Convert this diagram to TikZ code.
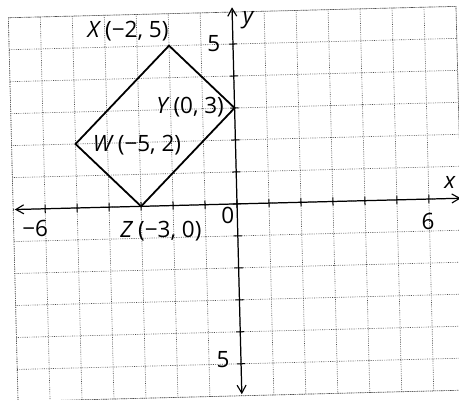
\documentclass[tikz,border=0pt]{standalone}
\usepackage{fontspec}
\setmainfont{Open Sans}
\usetikzlibrary{arrows.meta}
\tikzset{
  gridline/.style={densely dotted, line width=0.6pt, black!70},
  axisline/.style={line width=1.1pt, {Straight Barb[length=7pt,width=8pt,line width=1pt]}-{Straight Barb[length=7pt,width=8pt,line width=1pt]}},
  shapeline/.style={line width=1.6pt, line join=miter},
  lbl/.style={font=\fontsize{20}{24}\selectfont, inner sep=1pt},
  ticklbl/.style={font=\fontsize{20}{24}\selectfont, inner sep=1pt},
}
\begin{document}
\begin{tikzpicture}
\useasboundingbox (-7.41,-6.125) rectangle (6.94,6.375);
\begin{scope}[rotate=1.45]
  % grid
  \draw[gridline] (-7,-6) grid (7,6);
  \draw[gridline] (-7,-6) rectangle (7,6);
  % axes
  \coordinate (xl) at (-6.95,0);
  \coordinate (xr) at (7.0,0);
  \coordinate (yb) at (0,-5.95);
  \coordinate (yt) at (0,6.15);
  \draw[axisline] (xl) -- (xr);
  \draw[axisline] (yb) -- (yt);
  \foreach \i in {-6,...,6} \draw[line width=0.9pt] (\i,-0.13) -- (\i,0.13);
  \foreach \j in {-5,...,5} \draw[line width=0.9pt] (-0.13,\j) -- (0.13,\j);
  % quadrilateral
  \coordinate (X) at (-2,5);
  \coordinate (Y) at (0,3);
  \coordinate (Z) at (-3,0);
  \coordinate (W) at (-5,2);
  \draw[shapeline] (X) -- (Y) -- (Z) -- (W) -- cycle;
  % labels
  \node[lbl] (lx) at (-3.27,5.5) {\itshape X\upshape\ (−2, 5)};
  \node[lbl] (ly) at (-1.39,3.07) {\itshape Y\upshape\ (0, 3)};
  \node[lbl] (lw) at (-3.08,1.92) {\itshape W\upshape\ (−5, 2)};
  \node[lbl] (lz) at (-2.4,-0.78) {\itshape Z\upshape\ (−3, 0)};
  \node[ticklbl] (l0) at (-0.3,-0.35) {0};
  \node[ticklbl] (lm6) at (-6.33,-0.62) {−6};
  \node[ticklbl] (l6) at (5.96,-0.7) {6};
  \node[ticklbl] (l5) at (-0.6,5.02) {5};
  \node[ticklbl] (lm5) at (-0.56,-4.87) {5};
  \node[lbl] (axx) at (6.67,0.49) {\itshape x};
  \node[lbl] (axy) at (0.49,5.74) {\itshape y};
\end{scope}
\end{tikzpicture}
\end{document}
